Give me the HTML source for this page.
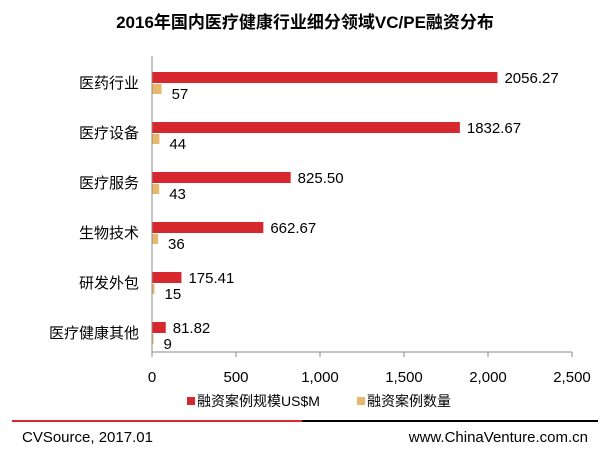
<!DOCTYPE html>
<html><head><meta charset="utf-8"><style>
body{margin:0;background:#fff;font-family:"Liberation Sans","Noto Sans CJK SC",sans-serif;}
svg text{font-family:"Liberation Sans","Noto Sans CJK SC",sans-serif;}
</style></head><body>
<svg id="c" width="610" height="449">
<text x="305" y="28" text-anchor="middle" font-size="17" font-weight="bold" fill="#000">2016年国内医疗健康行业细分领域VC/PE融资分布</text>
<g id="plot"></g>
<g>
<rect x="187" y="397" width="8" height="8" fill="#d7282f"/>
<text x="197" y="406" font-size="14">融资案例规模US$M</text>
<rect x="357" y="397" width="8" height="8" fill="#e8b86d"/>
<text x="367" y="406" font-size="14">融资案例数量</text>
</g>
<line x1="12" y1="421" x2="302" y2="421" stroke="#d7282f" stroke-width="2"/>
<line x1="302" y1="421" x2="598" y2="421" stroke="#000" stroke-width="2"/>
<text x="22" y="442" font-size="15">CVSource, 2017.01</text>
<text x="588" y="442" font-size="15" text-anchor="end">www.ChinaVenture.com.cn</text>
</svg>
<script>
const categories=["医药行业","医疗设备","医疗服务","生物技术","研发外包","医疗健康其他"];
const amounts=[2056.27,1832.67,825.50,662.67,175.41,81.82];
const counts=[57,44,43,36,15,9];
const amountLabels=["2056.27","1832.67","825.50","662.67","175.41","81.82"];
const ticks=[0,500,1000,1500,2000,2500];
const tickLabels=["0","500","1,000","1,500","2,000","2,500"];
const NS="http://www.w3.org/2000/svg";
const g=document.getElementById('plot');
const x0=152,x1=572,yTop=52,band=50,yBot=352;
const xs=v=>x0+(v/2500)*(x1-x0);
function mk(t,a){const e=document.createElementNS(NS,t);for(const k in a)e.setAttribute(k,a[k]);g.appendChild(e);return e;}
categories.forEach((c,i)=>{
 const bt=yTop+i*band;
 let r=mk('rect',{x:x0,y:bt+20,width:xs(amounts[i])-x0,height:11,fill:'#d7282f'});
 
 
 let o=mk('rect',{x:x0,y:bt+32,width:xs(counts[i])-x0,height:10,fill:'#e8b86d'});
 
 
 let t=mk('text',{x:xs(amounts[i])+7,y:bt+31,'font-size':15});t.textContent=amountLabels[i];
 
 
 let t2=mk('text',{x:xs(counts[i])+10,y:bt+47,'font-size':15});t2.textContent=counts[i];
 
 
 let cl=mk('text',{x:139,y:bt+36,'font-size':15,'text-anchor':'end'});cl.textContent=c;
 
 
});
let ya=mk('line',{x1:x0,y1:yTop+4,x2:x0,y2:yBot,stroke:'#888'});


let xa=mk('line',{x1:x0,y1:yBot,x2:x1,y2:yBot,stroke:'#888'});


ticks.forEach((v,i)=>{
 let l=mk('line',{x1:xs(v),y1:yBot,x2:xs(v),y2:yBot+5,stroke:'#888'});
 
 
 let t=mk('text',{x:xs(v),y:yBot+30,'font-size':15,'text-anchor':'middle'});t.textContent=tickLabels[i];
 
 
});
</script>
</body></html>
